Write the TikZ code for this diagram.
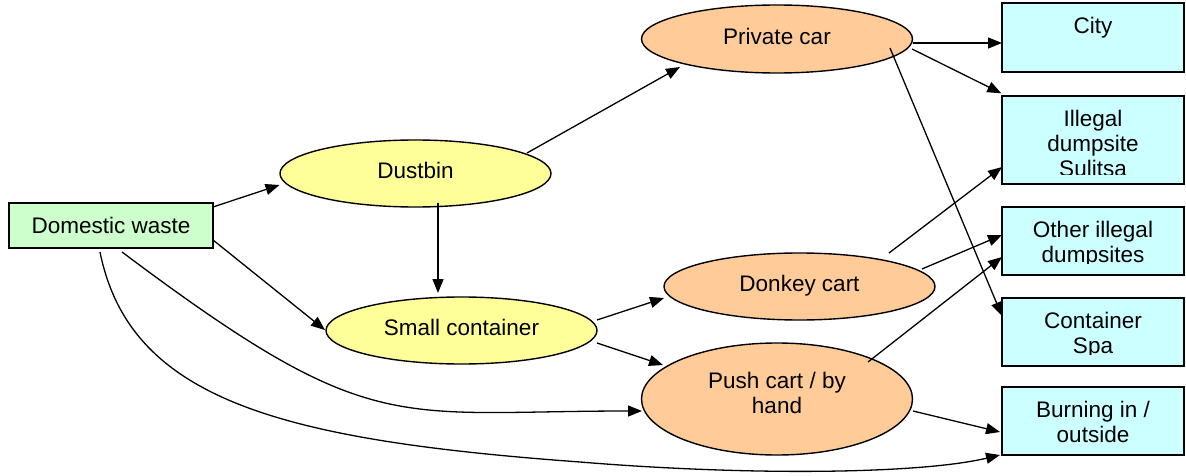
\documentclass[tikz,border=0pt]{standalone}
\usepackage{fontspec}
\setmainfont{Liberation Sans}
\usetikzlibrary{shapes.geometric,arrows.meta,calc}

\definecolor{srcgreen}{RGB}{204,255,204}
\definecolor{binyellow}{RGB}{255,255,153}
\definecolor{cartorange}{RGB}{255,204,153}
\definecolor{destcyan}{RGB}{204,255,255}

\begin{document}
\begin{tikzpicture}[x=1pt,y=-1pt,
  every node/.style={font=\fontsize{22.5}{25}\selectfont},
  shapeline/.style={draw=black, line width=1.4pt},
  source/.style={shapeline, rectangle, fill=srcgreen, minimum width=204pt, minimum height=45pt, inner sep=0pt},
  bin/.style={shapeline, ellipse, fill=binyellow, minimum width=271pt, minimum height=67pt, inner sep=0pt, text depth=6pt},
  carrier/.style={shapeline, ellipse, fill=cartorange, minimum width=271pt, minimum height=67pt, inner sep=0pt},
  target/.style={shapeline, rectangle, fill=destcyan, minimum width=182pt, minimum height=68pt, inner sep=0pt},
  boxtext/.style={anchor=north, inner sep=0pt, align=center},
  flow/.style={draw=black, line width=1.3pt, -{Triangle[length=14pt,width=11pt]}}
]
\useasboundingbox (0,0) rectangle (1186,476);

% source and collection points
\node[source] (dw) at (111,225.5) {Domestic waste};
\node[bin] (db) at (415.5,173.5) {Dustbin};
\node[bin] (sc) at (461.5,330.5) {Small container};

% means of transport
\node[carrier, minimum height=68pt, text depth=6pt] (pc) at (777,39) {Private car};
\node[carrier, text depth=6pt] (dk) at (799.5,286.5) {Donkey cart};
\node[carrier, minimum height=112pt] (pu) at (777,399)
  {\raisebox{0pt}[\height][\dimexpr\depth+7pt\relax]{\begin{tabular}{@{}c@{}}Push cart / by\\hand\end{tabular}}};

% destinations
\node[target, minimum height=69pt] (city) at (1093,37.5) {};
\node[target, minimum height=88pt] (ill) at (1093,140) {};
\node[target] (oth) at (1093,241) {};
\node[target] (spa) at (1093,332) {};
\node[target] (burn) at (1093,421) {};

% destination labels, cut off near the bottom of each box
\begin{scope}
  \clip (city.north west) rectangle ($(city.south east)+(0,-11)$);
  \node[boxtext] (city-t) at ($(city.north)+(0,15)$) {City};
\end{scope}
\begin{scope}
  \clip (ill.north west) rectangle ($(ill.south east)+(0,-10)$);
  \node[boxtext] (ill-t) at ($(ill.north)+(0,15)$) {Illegal\\dumpsite\\Sulitsa};
\end{scope}
\begin{scope}
  \clip (oth.north west) rectangle ($(oth.south east)+(0,-12)$);
  \node[boxtext] (oth-t) at ($(oth.north)+(0,15)$) {Other illegal\\dumpsites};
\end{scope}
\begin{scope}
  \clip (spa.north west) rectangle ($(spa.south east)+(0,-12)$);
  \node[boxtext] (spa-t) at ($(spa.north)+(0,15)$) {Container\\Spa};
\end{scope}
\begin{scope}
  \clip (burn.north west) rectangle ($(burn.south east)+(0,-11)$);
  \node[boxtext] (burn-t) at ($(burn.north)+(0,15)$) {Burning in /\\outside};
\end{scope}

% flows from the household
\draw[flow] ($(dw)+(102,-18.5)$) -- ($(db)+(-136,11.5)$);
\draw[flow] ($(dw)+(102,14.5)$) -- ($(sc)+(-136.5,-0.5)$);
\draw[flow] ($(db)+(22.5,29.5)$) -- ($(sc)+(-23.5,-37.5)$);
\draw[flow] ($(db)+(111.5,-20.5)$) -- ($(pc)+(-97,28)$);
\draw[flow] ($(sc)+(135.5,-10.5)$) -- ($(dk)+(-135.5,11.5)$);
\draw[flow] ($(sc)+(135.5,12.5)$) -- ($(pu)+(-114,-34)$);
\draw[flow] ($(dw)+(11,26.5)$) .. controls ($(dw)+(261,214)$) and ($(pu)+(-385,12)$) .. ($(pu)+(-135,12)$);
\coordinate (lowbend) at ($(burn)+(-513,41)$);
\draw[flow] ($(dw)+(-11,26.5)$) .. controls ($(dw)+(19,174.5)$) and ($(dw)+(169,214.5)$) .. (lowbend)
  .. controls ($(burn)+(-343,55)$) and ($(burn)+(-173,53)$) .. ($(burn)+(-93,34)$);

% flows to the destinations
\draw[flow] ($(pc)+(136,4)$) -- ($(city)+(-91,5.5)$);
\draw[flow] ($(pc)+(135,10)$) -- ($(ill.north west)+(0,-2)$);
\draw[flow] ($(pc)+(113,9)$) -- ($(spa)+(-91,-16)$);
\draw[flow] ($(dk)+(89.5,-33.5)$) -- ($(ill)+(-91,27)$);
\draw[flow] ($(dk)+(122.5,-17.5)$) -- ($(oth)+(-91,-6)$);
\draw[flow] ($(pu)+(91,-37)$) -- ($(oth)+(-91,16)$);
\draw[flow] ($(pu)+(136,12)$) -- ($(burn)+(-93,11)$);
\end{tikzpicture}
\end{document}
